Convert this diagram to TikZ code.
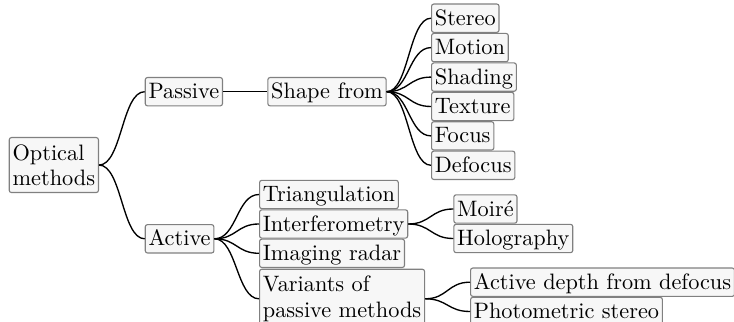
\documentclass[tikz,border=0pt]{standalone}
\usetikzlibrary{calc}
\tikzset{
  box/.style={draw=black!50, fill=black!3, rounded corners=1pt, line width=0.5pt,
    inner xsep=1.5pt, inner ysep=1.5pt, text height=8pt, text depth=1.7pt, anchor=west},
  boxtwo/.style={draw=black!50, fill=black!3, rounded corners=1pt, line width=0.5pt,
    inner xsep=1.5pt, inner ysep=3.1pt, align=left, anchor=north west,
    font={\setlength\baselineskip{11.3pt}}},
  link/.style={line width=0.6pt,
    to path={.. controls ($(\tikztostart)!0.5!(\tikztotarget |- \tikztostart)$)
      and ($(\tikztotarget)!0.5!(\tikztostart |- \tikztotarget)$) .. (\tikztotarget)}}
}
\begin{document}
\begin{tikzpicture}[x=0.4484pt, y=-0.4484pt]
\useasboundingbox (0,0) rectangle (734,322);
% level 0
\node[boxtwo] (om) at (8.7,137) {Optical\\methods};
% level 1
\node[box] (pa) at (144.7,91.7) {Passive};
\node[box] (ac) at (144.7,238.8) {Active};
% passive branch
\node[box] (sf) at (267.3,91.7) {Shape from};
\node[box] (st) at (431,18.2) {Stereo};
\node[box] (mo) at (431,47.6) {Motion};
\node[box] (sh) at (431,77.1) {Shading};
\node[box] (te) at (431,106.5) {Texture};
\node[box] (fo) at (431,135.9) {Focus};
\node[box] (de) at (431,165.3) {Defocus};
% active branch
\node[box] (tr) at (259,194.5) {Triangulation};
\node[box] (in) at (259,224) {Interferometry};
\node[box] (ir) at (259,253.3) {Imaging radar};
\node[boxtwo] (va) at (259,268.7) {Variants of\\passive methods};
\node[box] (mi) at (453.3,209) {Moiré};
\node[box] (ho) at (453.3,238.5) {Holography};
\node[box] (ad) at (470,282.2) {Active depth from defocus};
\node[box] (ps) at (470,311.5) {Photometric stereo};
% connectors
\draw[link] (om.east) to (pa.west);
\draw[link] (om.east) to (ac.west);
\draw[link] (pa.east) to (sf.west);
\foreach \c in {st,mo,sh,te,fo,de} \draw[link] (sf.east) to (\c.west);
\foreach \c in {tr,in,ir,va} \draw[link] (ac.east) to (\c.west);
\foreach \c in {mi,ho} \draw[link] (in.east) to (\c.west);
\foreach \c in {ad,ps} \draw[link] (va.east) to (\c.west);
\end{tikzpicture}
\end{document}
